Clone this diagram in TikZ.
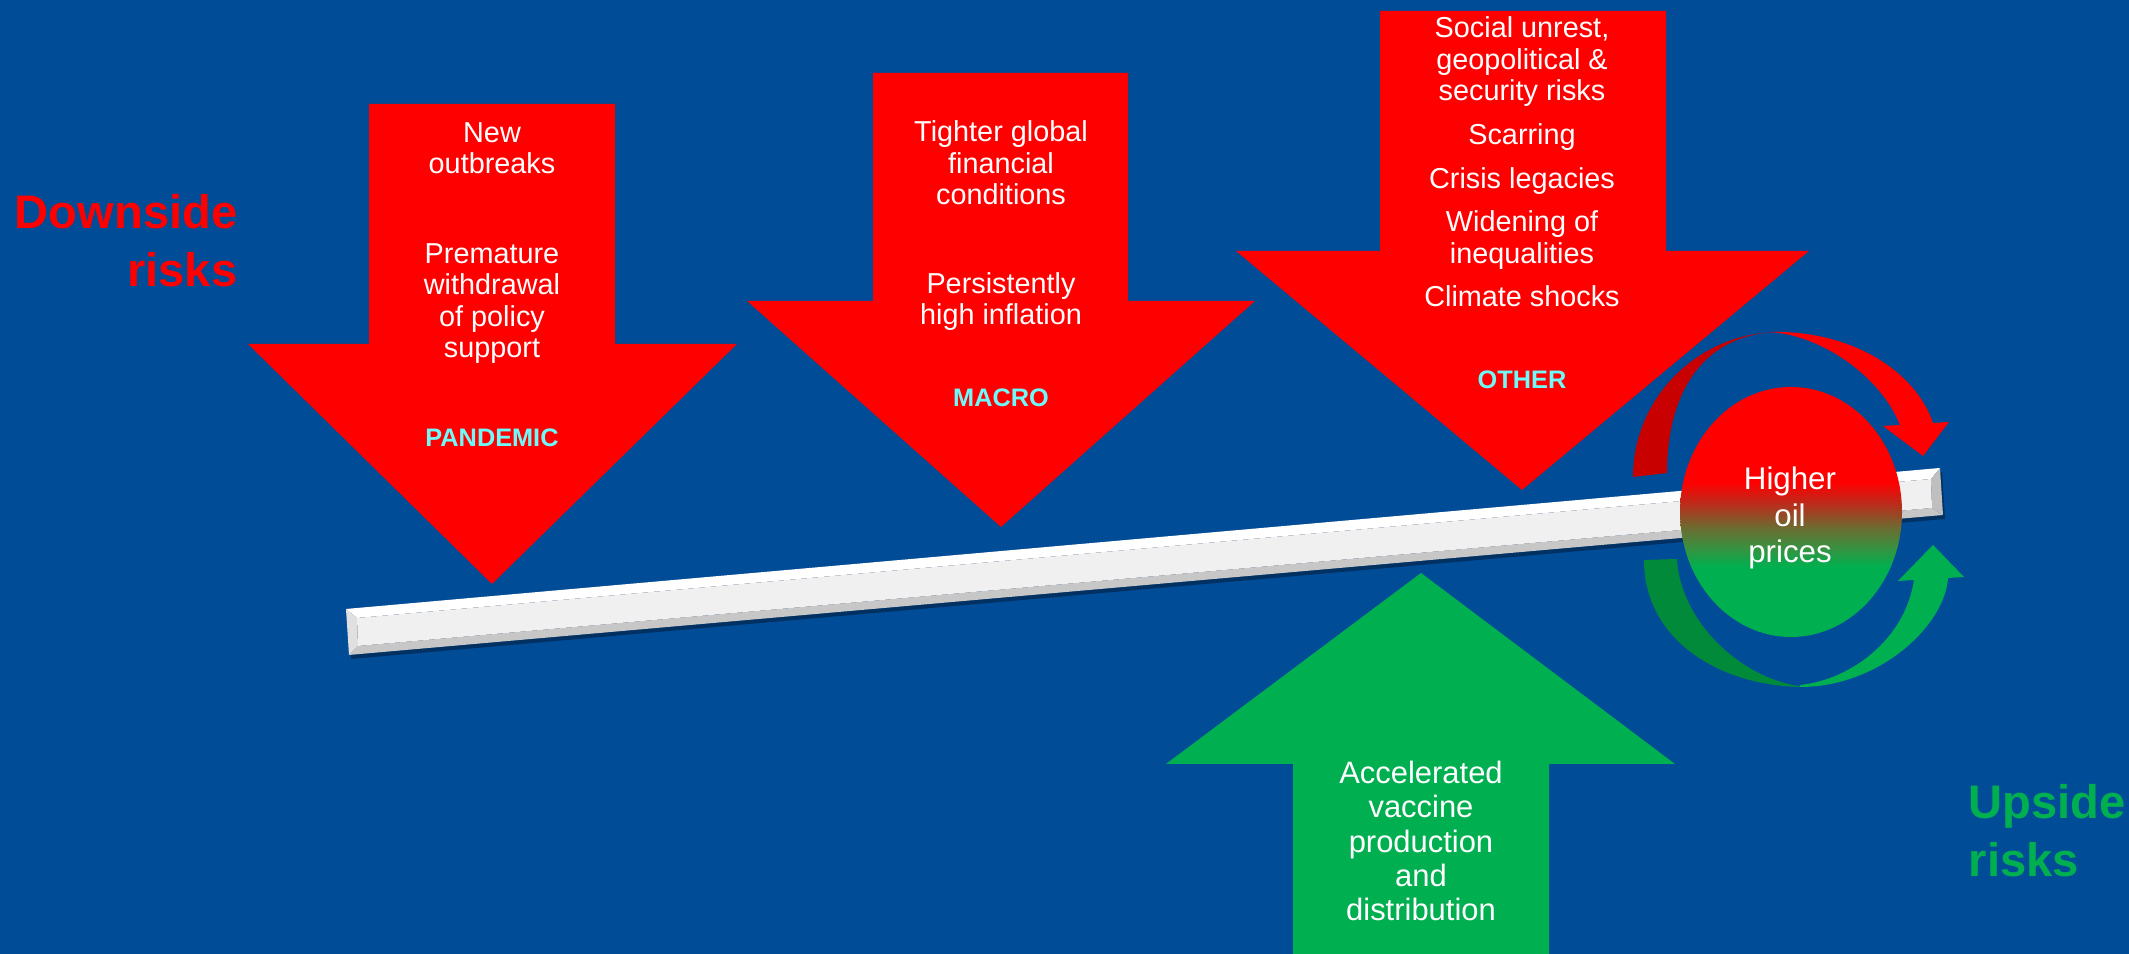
\documentclass[tikz,border=0pt]{standalone}
\usepackage{fontspec}
\setmainfont{Liberation Sans}
\usepackage{tikz}
\usetikzlibrary{shapes.geometric}

\definecolor{bgblue}{RGB}{0,76,151}
\definecolor{riskred}{RGB}{255,0,0}
\definecolor{darkred}{RGB}{200,0,0}
\definecolor{riskgreen}{RGB}{0,176,80}
\definecolor{darkgreen}{RGB}{0,138,58}
\definecolor{labelcyan}{RGB}{110,250,250}
\definecolor{plankgray}{RGB}{240,240,240}
\definecolor{oilmidA}{RGB}{58,144,64}
\definecolor{oilmidB}{RGB}{110,106,48}
\definecolor{oilmidC}{RGB}{192,40,26}

% red on top, green below, mixed in the middle
\pgfdeclareverticalshading{oilfade}{100bp}{color(0bp)=(riskgreen); color(39bp)=(riskgreen);
  color(43bp)=(oilmidA); color(47bp)=(oilmidB); color(52bp)=(oilmidC);
  color(56bp)=(riskred); color(100bp)=(riskred)}

\begin{document}
\begin{tikzpicture}[scale=1.0, >=stealth,
    boxtext/.style={text=white, align=center, font=\fontsize{8.2}{9}\selectfont},
    tagtext/.style={text=labelcyan, font=\bfseries\fontsize{7.2}{8}\selectfont},
    sidetext/.style={inner sep=0pt, font=\bfseries\fontsize{13.4}{16.5}\selectfont}]
			% Background
			\useasboundingbox (0,0) rectangle (21.29,9.54);
			\fill[bgblue] (0,0) rectangle (21.29,9.54);

			% The plank: shadow, bevels and face
			\fill[black, opacity=0.35, shift={(0.02,-0.04)}] (3.46,3.45) -- (19.40,4.86) -- (19.43,4.39) -- (3.49,2.99) -- cycle;
			\fill[white] (3.46,3.45) -- (19.40,4.86) -- (19.31,4.75) -- (3.57,3.36) -- cycle;
			\fill[black!22] (3.49,2.99) -- (19.43,4.39) -- (19.32,4.46) -- (3.58,3.08) -- cycle;
			\fill[black!12] (3.46,3.45) -- (3.57,3.36) -- (3.58,3.08) -- (3.49,2.99) -- cycle;
			\fill[black!25] (19.40,4.86) -- (19.43,4.39) -- (19.32,4.46) -- (19.31,4.75) -- cycle;
			\fill[plankgray] (3.57,3.36) -- (19.31,4.75) -- (19.32,4.46) -- (3.58,3.08) -- cycle;

			% Downward arrows
			\fill[riskred] (3.69,8.50) -- (6.15,8.50) -- (6.15,6.10) -- (7.37,6.10) -- (4.92,3.70) -- (2.48,6.10) -- (3.69,6.10) -- cycle;
			\fill[riskred] (8.73,8.81) -- (11.28,8.81) -- (11.28,6.53) -- (12.55,6.53) -- (10.01,4.27) -- (7.47,6.53) -- (8.73,6.53) -- cycle;
			\fill[riskred] (13.80,9.43) -- (16.66,9.43) -- (16.66,7.03) -- (18.09,7.03) -- (15.22,4.64) -- (12.36,7.03) -- (13.80,7.03) -- cycle;

			% Upward arrow
			\fill[riskgreen] (12.93,-0.05) -- (12.93,1.90) -- (11.66,1.90) -- (14.21,3.81) -- (16.75,1.90) -- (15.49,1.90) -- (15.49,-0.05) -- cycle;

			% Texts in the arrows (anchored on the last line)
			\node[boxtext, anchor=base] (pandemictxt) at (4.92,5.96) {New\\outbreaks\\[0.575cm]Premature\\withdrawal\\of policy\\support};
			\node[tagtext, anchor=base] (pandemic) at (4.92,5.07) {PANDEMIC};
			\node[boxtext, anchor=base] (macrotxt) at (10.01,6.29) {Tighter global\\financial\\conditions\\[0.57cm]Persistently\\high inflation};
			\node[tagtext, anchor=base] (macro) at (10.01,5.47) {MACRO};
			\node[boxtext, anchor=base] (othertxt) at (15.22,6.47) {Social unrest,\\geopolitical \&\\security risks\\[0.12cm]Scarring\\[0.12cm]Crisis legacies\\[0.12cm]Widening of\\inequalities\\[0.12cm]Climate shocks};
			\node[tagtext, anchor=base] (other) at (15.22,5.65) {OTHER};
			\node[boxtext, font=\fontsize{8.8}{9.8}\selectfont, anchor=base] (vaccine) at (14.21,0.33) {Accelerated\\vaccine\\production\\and\\distribution};

			% Curved arrow over the circle
			\fill[darkred] (16.33,4.77) .. controls (16.33,5.57) and (16.99,6.22) .. (17.80,6.22)
				.. controls (17.05,6.21) and (16.67,5.64) .. (16.67,4.81) -- cycle;
			\fill[riskred] (17.70,6.22) .. controls (18.50,6.24) and (19.15,5.84) .. (19.33,5.31)
				-- (19.49,5.32) -- (19.23,4.98) -- (18.83,5.28) -- (19.00,5.29)
				.. controls (18.80,5.79) and (18.20,6.19) .. (17.70,6.22) -- cycle;

			% Curved arrow under the circle
			\fill[darkgreen] (16.44,3.94) .. controls (16.44,3.14) and (17.20,2.67) .. (18.05,2.67)
				.. controls (17.40,2.74) and (16.80,3.34) .. (16.77,3.95) -- cycle;
			\fill[riskgreen] (18.00,2.67) .. controls (18.80,2.67) and (19.45,3.29) .. (19.48,3.76)
				-- (19.64,3.77) -- (19.33,4.09) -- (18.98,3.73) -- (19.14,3.74)
				.. controls (19.05,3.14) and (18.50,2.74) .. (18.00,2.69) -- cycle;

			% Circle
			\node[ellipse, shading=oilfade, minimum width=2.22cm, minimum height=2.50cm, inner sep=0pt] (oil) at (17.91,4.42) {};
			\node[boxtext, font=\fontsize{8.9}{10.5}\selectfont, anchor=base] (oiltxt) at (17.90,3.91) {Higher\\oil\\prices};

			% Side labels
			\node[sidetext, text=riskred, align=right, anchor=base east] (downside) at (2.38,6.67) {Downside\\risks};
			\node[sidetext, text=riskgreen, align=left, anchor=base west] (upside) at (19.68,0.77) {Upside\\risks};
		\end{tikzpicture}
\end{document}
